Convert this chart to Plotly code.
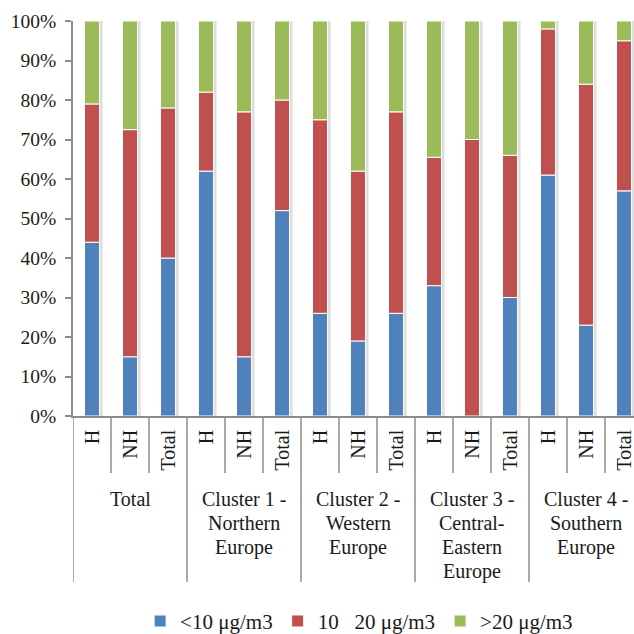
import plotly.graph_objects as go

# Sub-categories along the x axis (15 bars)
sub_labels = ["H", "NH", "Total", "H", "NH", "Total", "H", "NH", "Total",
              "H", "NH", "Total", "H", "NH", "Total"]

# Group captions, one list of lines per cluster (3 bars per group)
group_lines = [
    ["Total"],
    ["Cluster 1 -", "Northern", "Europe"],
    ["Cluster 2 -", "Western", "Europe"],
    ["Cluster 3 -", "Central-", "Eastern", "Europe"],
    ["Cluster 4 -", "Southern", "Europe"],
]

# Share of observations (%) per concentration class
low = [44, 15, 40, 62, 15, 52, 26, 19, 26, 33, 0, 30, 61, 23, 57]
mid = [35, 57.5, 38, 20, 62, 28, 49, 43, 51, 32.5, 70, 36, 37, 61, 38]
high = [21, 27.5, 22, 18, 23, 20, 25, 38, 23, 34.5, 30, 34, 2, 16, 5]

# y axis ticks
y_ticks = [0, 10, 20, 30, 40, 50, 60, 70, 80, 90, 100]
y_tick_text = [f"{v}%" for v in y_ticks]

series_names = ["&lt;10 μg/m3", "10\u00a0\u00a0\u00a020 μg/m3", "&gt;20 μg/m3"]
colors = ["#4F81BD", "#C0504D", "#9BBB59"]

FONT = "'Liberation Serif', 'Times New Roman', serif"
INK = "#1a1a1a"
AXIS = "#8c8c8c"
BAR_W = 0.395

x = list(range(len(sub_labels)))
totals = [a + b + c for a, b, c in zip(low, mid, high)]
bases = [
    [0] * len(low),
    low,
    [a + b for a, b in zip(low, mid)],
]

fig = go.Figure()

# soft drop shadow behind each column
fig.add_trace(go.Bar(
    x=x, y=totals, width=BAR_W + 0.03, offset=-BAR_W / 2 + 0.05,
    marker=dict(color="rgba(0,0,0,0.13)", line=dict(width=0)),
    showlegend=False, hoverinfo="skip",
))

for vals, base, name, col in zip([low, mid, high], bases, series_names, colors):
    fig.add_trace(go.Bar(
        x=x, y=vals, base=base, name=name, width=BAR_W,
        marker=dict(color=col, line=dict(color="white", width=1)),
    ))

# vertical dividers below the axis: short ones between bars, long ones between groups
plot_h = 395.0
short_end = -(473 - 416) / plot_h
long_end = -(582 - 416) / plot_h
shapes = []
for k in range(len(sub_labels) + 1):
    xb = k - 0.5
    is_group = (k % 3 == 0)
    shapes.append(dict(
        type="line", xref="x", yref="paper", x0=xb, x1=xb, y0=0,
        y1=long_end if is_group else short_end,
        line=dict(color=AXIS, width=1.5),
    ))

# group captions, one annotation per text line
annotations = []
line_gap = 24 / plot_h
first_top = -(486 - 416) / plot_h
for g, lines in enumerate(group_lines):
    cx = g * 3 + 1
    for i, txt in enumerate(lines):
        annotations.append(dict(
            x=cx, xref="x", y=first_top - i * line_gap, yref="paper",
            yanchor="top", xanchor="center", text=txt, showarrow=False,
            font=dict(family=FONT, size=20, color=INK),
        ))

fig.update_layout(
    width=634, height=634,
    margin=dict(l=73, r=0, t=21, b=218),
    paper_bgcolor="white", plot_bgcolor="white",
    barmode="overlay",
    font=dict(family=FONT, size=20, color=INK),
    shapes=shapes, annotations=annotations,
    legend=dict(
        orientation="h", yref="container", y=0.02, yanchor="middle",
        x=0.51, xanchor="center", font=dict(family=FONT, size=21, color=INK),
        traceorder="normal", itemwidth=30,
    ),
    xaxis=dict(
        range=[-0.5, -0.5 + (634 - 73) / 38.0],
        tickvals=x, ticktext=sub_labels, tickangle=-90,
        showline=True, linecolor=AXIS, linewidth=1.5,
        ticks="", showgrid=False, zeroline=False,
        ticklabeloverflow="allow", ticklabelstandoff=4,
        tickfont=dict(family=FONT, size=20, color=INK),
    ),
    yaxis=dict(
        range=[0, 100], tickvals=y_ticks, ticktext=y_tick_text,
        showline=True, linecolor=AXIS, linewidth=1.5,
        ticks="outside", ticklen=6, tickcolor=AXIS, tickwidth=1.5,
        ticklabelstandoff=5,
        showgrid=False, zeroline=False,
        tickfont=dict(family=FONT, size=19.5, color=INK),
    ),
)

fig.write_html("out.html")
